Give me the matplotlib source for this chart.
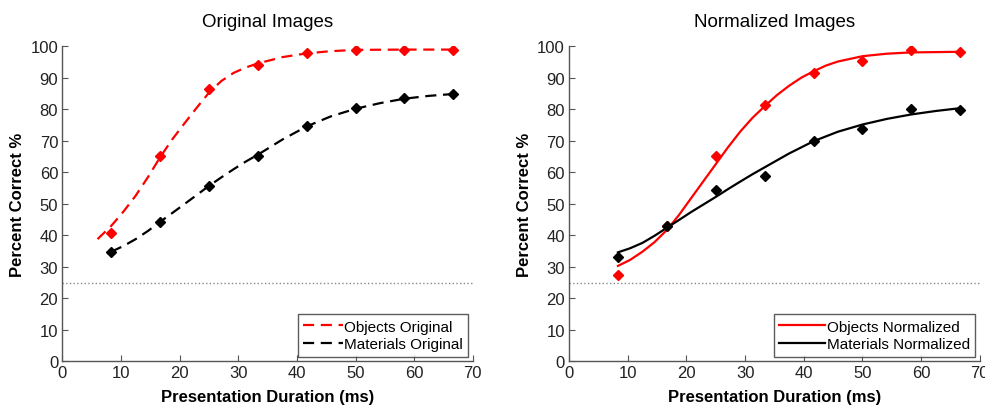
import matplotlib.pyplot as plt

# presentation durations (ms) of the measured points
durations = [8.33, 16.67, 25, 33.33, 41.67, 50, 58.33, 66.67]

# measured percent correct
obj_orig = [40.6, 65.3, 86.4, 94.1, 97.9, 98.9, 99.0, 99.0]
mat_orig = [34.6, 44.3, 55.7, 65.3, 74.8, 80.4, 83.5, 84.9]
obj_norm = [27.4, 43.0, 65.3, 81.4, 91.5, 95.4, 98.8, 98.1]
mat_norm = [33.0, 43.0, 54.4, 58.9, 70.0, 73.7, 80.1, 79.8]

# fitted curves
fit_obj_orig_x = [6.0, 8.33, 10.4, 12.5, 14.6, 16.67, 18.75, 20.8, 22.9, 25, 27.1, 29.2, 31.25,
                  33.33, 37.5, 41.67, 45.8, 50, 58.33, 66.67]
fit_obj_orig_y = [38.8, 43.0, 47.5, 52.6, 58.5, 64.8, 70.5, 75.5, 80.5, 85.3, 89.0, 91.6, 93.3,
                  94.6, 96.6, 97.8, 98.5, 98.9, 99.0, 99.0]
fit_mat_orig_x = [8.33, 10.4, 12.5, 14.6, 16.67, 18.75, 20.8, 22.9, 25, 27.1, 29.2, 31.25, 33.33,
                  37.5, 41.67, 45.8, 50, 54.2, 58.33, 62.5, 66.67]
fit_mat_orig_y = [34.8, 36.6, 38.8, 41.4, 44.3, 47.1, 49.9, 52.8, 55.7, 58.4, 61.0, 63.4, 65.6,
                  70.4, 74.6, 77.8, 80.2, 82.0, 83.4, 84.3, 84.9]
fit_obj_norm_x = [8.33, 10.4, 12.5, 14.6, 16.67, 18.75, 20.8, 22.9, 25, 27.1, 29.2, 31.25, 33.33,
                  35.4, 37.5, 39.6, 41.67, 43.75, 45.8, 50, 54.2, 58.33, 62.5, 66.67]
fit_obj_norm_y = [30.3, 32.2, 34.8, 37.9, 41.7, 46.5, 51.8, 57.2, 62.6, 68.0, 73.0, 77.3, 81.0,
                  84.5, 87.5, 90.1, 92.1, 93.9, 95.2, 96.9, 97.7, 98.1, 98.2, 98.3]
fit_mat_norm_x = [8.33, 10.4, 12.5, 14.6, 16.67, 18.75, 20.8, 22.9, 25, 27.1, 29.2, 31.25, 33.33,
                  37.5, 41.67, 45.8, 50, 54.2, 58.33, 62.5, 66.67]
fit_mat_norm_y = [34.6, 35.9, 37.6, 39.9, 42.4, 44.9, 47.4, 49.8, 52.2, 54.7, 57.1, 59.4, 61.6,
                  66.0, 69.9, 72.9, 75.2, 77.0, 78.4, 79.5, 80.4]

chance = 25

plt.rcParams['font.family'] = ['Liberation Sans', 'DejaVu Sans']

fig = plt.figure(figsize=(9.85, 4.10), dpi=100)
ax1 = fig.add_axes([0.0633, 0.1163, 0.4167, 0.768])
ax2 = fig.add_axes([0.5777, 0.1163, 0.417, 0.768])


def style_axis(ax, title):
    ax.set_xlim(0, 70)
    ax.set_ylim(0, 100)
    ax.set_xticks(range(0, 71, 10))
    ax.set_yticks(range(0, 101, 10))
    ax.spines['top'].set_visible(False)
    ax.spines['right'].set_visible(False)
    for s in ['left', 'bottom']:
        ax.spines[s].set_color('#555555')
        ax.spines[s].set_linewidth(1.0)
    ax.tick_params(direction='in', length=4, labelsize=12, colors='#555555',
                   labelcolor='#222222', pad=3)
    ax.set_title(title, fontsize=13.5, pad=15)
    ax.set_xlabel('Presentation Duration (ms)', fontsize=12, fontweight='bold', labelpad=6)
    ax.set_ylabel('Percent Correct %', fontsize=12, fontweight='bold', labelpad=4)
    ax.plot([0, 70], [chance, chance], linestyle=':', color='#888888', linewidth=1.0)


# left panel: original images
style_axis(ax1, 'Original Images')
ax1.plot(fit_obj_orig_x, fit_obj_orig_y, color='red', linestyle=(0, (5, 3)), linewidth=1.6,
         label='Objects Original')
ax1.plot(fit_mat_orig_x, fit_mat_orig_y, color='black', linestyle=(0, (5, 3)), linewidth=1.6,
         label='Materials Original')
ax1.plot(durations, obj_orig, 'D', color='red', markersize=5.5, linestyle='none')
ax1.plot(durations, mat_orig, 'D', color='black', markersize=5.5, linestyle='none')
leg1 = ax1.legend(loc='lower right', fontsize=11, frameon=True, fancybox=False,
                  edgecolor='#333333', handlelength=2.6, handletextpad=0.1,
                  borderpad=0.35, labelspacing=0.25, borderaxespad=0.3)
leg1.get_frame().set_linewidth(1.0)

# right panel: normalized images
style_axis(ax2, 'Normalized Images')
ax2.plot(fit_obj_norm_x, fit_obj_norm_y, color='red', linewidth=1.6, label='Objects Normalized')
ax2.plot(fit_mat_norm_x, fit_mat_norm_y, color='black', linewidth=1.6, label='Materials Normalized')
ax2.plot(durations, obj_norm, 'D', color='red', markersize=5.5, linestyle='none')
ax2.plot(durations, mat_norm, 'D', color='black', markersize=5.5, linestyle='none')
leg2 = ax2.legend(loc='lower right', fontsize=11, frameon=True, fancybox=False,
                  edgecolor='#333333', handlelength=3.0, handletextpad=0.1,
                  borderpad=0.35, labelspacing=0.25, borderaxespad=0.3)
leg2.get_frame().set_linewidth(1.0)

fig.savefig('out.png', dpi=100)
